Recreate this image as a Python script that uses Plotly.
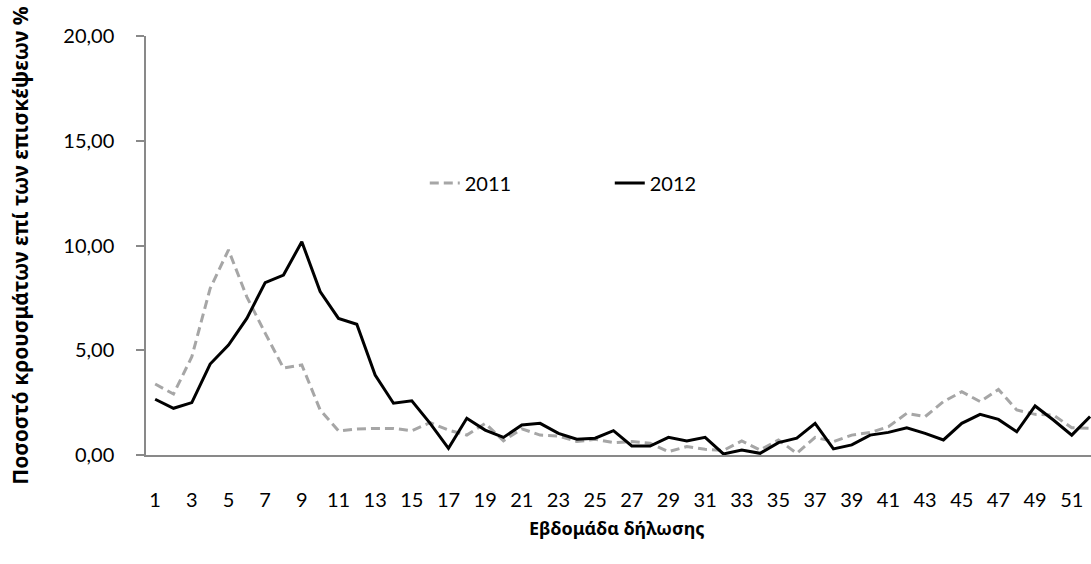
import plotly.graph_objects as go

weeks = list(range(1, 53))

y2011 = [3.39, 2.91, 4.69, 7.95, 9.79, 7.55, 5.82, 4.15, 4.30, 2.15,
         1.15, 1.24, 1.27, 1.27, 1.16, 1.54, 1.19, 0.95, 1.51, 0.68,
         1.25, 0.95, 0.91, 0.64, 0.75, 0.59, 0.64, 0.56, 0.16, 0.40,
         0.27, 0.22, 0.67, 0.24, 0.72, 0.08, 0.84, 0.64, 0.95, 1.07,
         1.35, 1.99, 1.83, 2.55, 3.02, 2.55, 3.13, 2.15, 1.94, 1.91,
         1.30, 1.27]

y2012 = [2.66, 2.23, 2.50, 4.34, 5.25, 6.52, 8.23, 8.59, 10.18, 7.80,
         6.52, 6.24, 3.82, 2.47, 2.59, 1.51, 0.32, 1.75, 1.19, 0.84,
         1.43, 1.51, 1.03, 0.75, 0.80, 1.16, 0.43, 0.43, 0.84, 0.67,
         0.84, 0.05, 0.24, 0.08, 0.59, 0.80, 1.51, 0.29, 0.48, 0.95,
         1.08, 1.30, 1.03, 0.72, 1.51, 1.94, 1.70, 1.11, 2.34, 1.67,
         0.95, 1.83]

x_ticks = list(range(1, 52, 2))
x_tick_text = [str(v) for v in x_ticks]
y_ticks = [0, 5, 10, 15, 20]
y_tick_text = ["0,00", "5,00", "10,00", "15,00", "20,00"]

FONT = "Lato, 'Noto Sans', sans-serif"
TITLE_FONT = "'Noto Sans', 'Open Sans', sans-serif"

fig = go.Figure()
fig.add_trace(go.Scatter(x=weeks, y=y2011, mode="lines", name="2011",
                         line=dict(color="#A6A6A6", width=3, dash="9px,5px")))
fig.add_trace(go.Scatter(x=weeks, y=y2012, mode="lines", name="2012",
                         line=dict(color="#000000", width=3)))

fig.update_layout(
    width=1091, height=564,
    margin=dict(l=146, r=0, t=36, b=109),
    paper_bgcolor="white", plot_bgcolor="white",
    font=dict(family=FONT, size=20, color="#000000"),
    showlegend=True,
    legend=dict(orientation="h", x=0.295, y=0.649, xanchor="left", yanchor="middle",
                font=dict(size=20), entrywidth=140, entrywidthmode="pixels",
                bgcolor="rgba(0,0,0,0)"),
    xaxis=dict(range=[0.5, 52.05], tickvals=x_ticks,
               ticktext=["<br>" + t for t in x_tick_text],
               showline=True, linecolor="#898989", linewidth=1.5,
               ticks="",
               showgrid=False, zeroline=False, tickfont=dict(size=20),
               automargin=False),
    yaxis=dict(range=[0, 20], tickvals=y_ticks, ticktext=y_tick_text,
               showline=True, linecolor="#898989", linewidth=1.5,
               ticks="outside", ticklen=8, tickcolor="#898989", tickwidth=1.5,
               showgrid=False, zeroline=False, tickfont=dict(size=20),
               ticklabelstandoff=18, automargin=False,
               title=dict(text="<b>Ποσοστό κρουσμάτων επί των επισκέψεων %</b>",
                          font=dict(family=TITLE_FONT, size=21), standoff=29)),
    annotations=[dict(text="<b>Εβδομάδα δήλωσης</b>", xref="paper", yref="paper",
                      x=(617 - 146) / 945, y=(455 - 528) / 419,
                      xanchor="center", yanchor="middle", showarrow=False,
                      font=dict(family=TITLE_FONT, size=18))],
)

fig.write_html("out.html", config={"displayModeBar": False},
               post_script="document.body.style.margin='0px';")
